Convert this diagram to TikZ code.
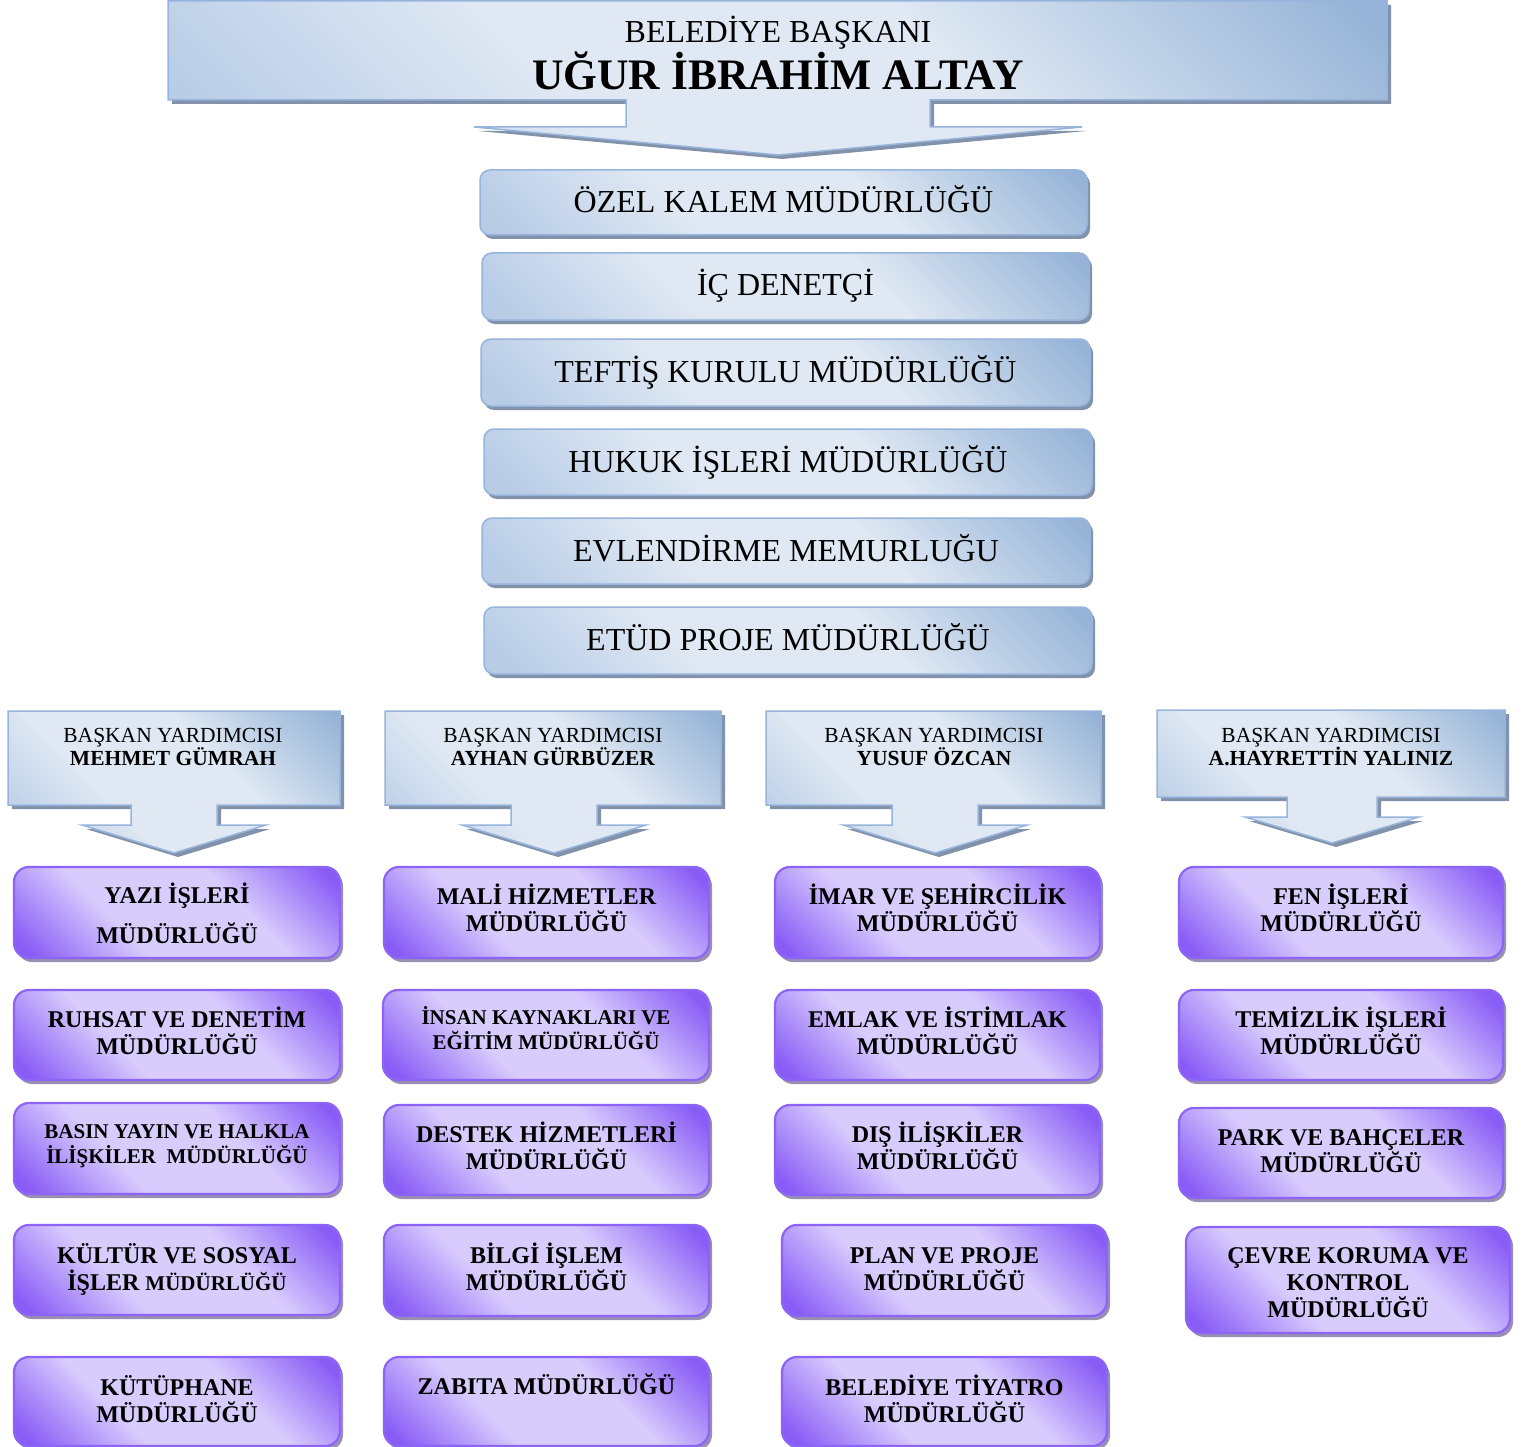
\documentclass[tikz,border=0pt]{standalone}
\usepackage{fontspec}
\setmainfont{Liberation Serif}
\usetikzlibrary{shadows}
\definecolor{bD}{RGB}{149,179,215}
\definecolor{bM}{RGB}{184,204,230}
\definecolor{bL}{RGB}{223,232,243}
\definecolor{bBorder}{RGB}{150,180,220}
\definecolor{bShadow}{RGB}{130,146,170}
\definecolor{pD}{RGB}{137,92,246}
\definecolor{pL}{RGB}{216,204,253}
\definecolor{pBorder}{RGB}{140,100,248}
\definecolor{pShadow}{RGB}{152,143,178}
\pgfdeclareverticalshading{blsh}{100bp}{color(0bp)=(bM); color(18bp)=(bM); color(38bp)=(bL); color(60bp)=(bL); color(84bp)=(bD); color(100bp)=(bD)}
\pgfdeclareverticalshading{ppsh}{100bp}{color(0bp)=(pD); color(18bp)=(pD); color(38bp)=(pL); color(62bp)=(pL); color(82bp)=(pD); color(100bp)=(pD)}
\newcommand\mlines[1]{\vtop{\lineskiplimit=-100pt\relax\halign{\hfil##\hfil\cr#1\crcr}}}
\tikzset{
  calloutshape/.style={draw=bBorder, line width=1.5pt, shade, shading=blsh, shading angle=-45,
    drop shadow={shadow xshift=4pt, shadow yshift=-4pt, opacity=1, fill=bShadow, draw=none}},
  bluebox/.style={rectangle, draw=bBorder, line width=1.5pt, rounded corners=10pt, shade, shading=blsh,
    shading angle=-45, inner sep=0pt,
    drop shadow={shadow xshift=3pt, shadow yshift=-4pt, opacity=1, fill=bShadow, draw=none}},
  purpbox/.style={rectangle, draw=pBorder, line width=2.2pt, rounded corners=15pt, shade, shading=ppsh,
    shading angle=-45, inner sep=0pt,
    drop shadow={shadow xshift=3pt, shadow yshift=-4pt, opacity=1, fill=pShadow, draw=none}},
  btext/.style={font=\fontsize{32}{36}\selectfont, inner sep=0pt, anchor=base},
  ptext/.style={font=\fontsize{24}{27}\selectfont\bfseries, inner sep=0pt, anchor=base},
  dtext/.style={font=\fontsize{21.5}{25}\selectfont, inner sep=0pt, anchor=base},
  dname/.style={font=\fontsize{21.5}{25}\selectfont\bfseries, inner sep=0pt, anchor=base},
}
% x1 y1 x2 y2 cx stemhalfwidth stembottom winghalfwidth tip
\newcommand\callout[9]{%
  \path[calloutshape] (#1,#2) -- (#3,#2) -- (#3,#4) -- ({#5+#6},#4) -- ({#5+#6},#7) -- ({#5+#8},#7)
    -- (#5,#9) -- ({#5-#8},#7) -- ({#5-#6},#7) -- ({#5-#6},#4) -- (#1,#4) -- cycle;}
% name x1 y1 x2 y2 firstbaselineoffset content
\newcommand\pbox[7]{%
  \node[purpbox, minimum width={#4-#2}, minimum height={#5-#3}] (#1) at ({(#2+#4)/2},{(#3+#5)/2}) {};
  \node[ptext] (#1-t) at ({(#2+#4)/2},{#3+#6}) {#7};}
% name x1 y1 x2 y2 content
\newcommand\bbox[6]{%
  \node[bluebox, minimum width={#4-#2}, minimum height={#5-#3}] (#1) at ({(#2+#4)/2},{(#3+#5)/2}) {};
  \node[btext] (#1-t) at ({(#2+#4)/2},{#3+43}) {#6};}
\begin{document}
\begin{tikzpicture}[x=1pt,y=-1pt]
\path[use as bounding box, fill=white] (0,0) rectangle (1523,1447);

% mayor
\callout{168}{1}{1387}{100}{778}{152}{127}{304}{155}
\node[btext] (mayorT) at (778,43) {BELEDİYE BAŞKANI};
\node[inner sep=0pt, anchor=base, font=\fontsize{43.5}{46}\selectfont\bfseries] (mayorN) at (778,90) {UĞUR İBRAHİM ALTAY};

% central units
\bbox{ozel}{480}{170}{1087}{235}{ÖZEL KALEM MÜDÜRLÜĞÜ}
\bbox{ic}{482}{253}{1089}{320}{İÇ DENETÇİ}
\bbox{teftis}{481}{339}{1090}{406}{TEFTİŞ KURULU MÜDÜRLÜĞÜ}
\bbox{hukuk}{484}{429}{1092}{495}{HUKUK İŞLERİ MÜDÜRLÜĞÜ}
\bbox{evlen}{482}{518}{1090}{584}{EVLENDİRME MEMURLUĞU}
\bbox{etud}{484}{607}{1092}{674}{ETÜD PROJE MÜDÜRLÜĞÜ}

% deputies
\callout{8}{711}{340}{805}{174}{43}{825}{92}{853}
\node[dtext] (d1r) at (173,742) {BAŞKAN YARDIMCISI};
\node[dname] (d1n) at (173,765) {MEHMET GÜMRAH};
\callout{385}{711}{721}{805}{554}{43}{825}{92}{853}
\node[dtext] (d2r) at (553,742) {BAŞKAN YARDIMCISI};
\node[dname] (d2n) at (553,765) {AYHAN GÜRBÜZER};
\callout{766}{711}{1101}{805}{935}{43}{825}{92}{853}
\node[dtext] (d3r) at (934,742) {BAŞKAN YARDIMCISI};
\node[dname] (d3n) at (934,765) {YUSUF ÖZCAN};
\callout{1157}{710}{1505}{797}{1332}{45}{817}{87}{843}
\node[dtext] (d4r) at (1331,742) {BAŞKAN YARDIMCISI};
\node[dname] (d4n) at (1331,765) {A.HAYRETTİN YALINIZ};

% column 1
\pbox{p11}{14}{867}{340}{958}{36}{\mlines{YAZI İŞLERİ\cr\noalign{\vskip13pt}MÜDÜRLÜĞÜ}}
\pbox{p12}{14}{990}{340}{1080}{37}{\mlines{RUHSAT VE DENETİM\cr MÜDÜRLÜĞÜ}}
\pbox{p13}{14}{1103}{340}{1194}{35}{\fontsize{21}{25}\selectfont\mlines{BASIN YAYIN VE HALKLA\cr İLİŞKİLER\ \ MÜDÜRLÜĞÜ}}
\pbox{p14}{14}{1225}{340}{1315}{38}{\mlines{KÜLTÜR VE SOSYAL\cr İŞLER {\fontsize{21}{25}\selectfont MÜDÜRLÜĞÜ}}}
\pbox{p15}{14}{1357}{340}{1446}{38}{\mlines{KÜTÜPHANE\cr MÜDÜRLÜĞÜ}}

% column 2
\pbox{p21}{384}{867}{709}{958}{37}{\mlines{MALİ HİZMETLER\cr MÜDÜRLÜĞÜ}}
\pbox{p22}{383}{990}{709}{1080}{34}{\fontsize{21}{25}\selectfont\mlines{İNSAN KAYNAKLARI VE\cr EĞİTİM MÜDÜRLÜĞÜ}}
\pbox{p23}{384}{1105}{709}{1195}{37}{\mlines{DESTEK HİZMETLERİ\cr MÜDÜRLÜĞÜ}}
\pbox{p24}{384}{1225}{709}{1316}{38}{\mlines{BİLGİ İŞLEM\cr MÜDÜRLÜĞÜ}}
\pbox{p25}{384}{1357}{709}{1446}{37}{ZABITA MÜDÜRLÜĞÜ}

% column 3
\pbox{p31}{775}{867}{1100}{958}{37}{\mlines{İMAR VE ŞEHİRCİLİK\cr MÜDÜRLÜĞÜ}}
\pbox{p32}{775}{990}{1100}{1080}{37}{\mlines{EMLAK VE İSTİMLAK\cr MÜDÜRLÜĞÜ}}
\pbox{p33}{775}{1105}{1100}{1195}{37}{\mlines{DIŞ İLİŞKİLER\cr MÜDÜRLÜĞÜ}}
\pbox{p34}{782}{1225}{1107}{1316}{38}{\mlines{PLAN VE PROJE\cr MÜDÜRLÜĞÜ}}
\pbox{p35}{782}{1357}{1107}{1446}{38}{\mlines{BELEDİYE TİYATRO\cr MÜDÜRLÜĞÜ}}

% column 4
\pbox{p41}{1179}{867}{1503}{958}{37}{\mlines{FEN İŞLERİ\cr MÜDÜRLÜĞÜ}}
\pbox{p42}{1179}{990}{1503}{1080}{37}{\mlines{TEMİZLİK İŞLERİ\cr MÜDÜRLÜĞÜ}}
\pbox{p43}{1179}{1108}{1503}{1198}{37}{\mlines{PARK VE BAHÇELER\cr MÜDÜRLÜĞÜ}}
\pbox{p44}{1186}{1227}{1510}{1333}{36}{\mlines{ÇEVRE KORUMA VE\cr KONTROL\cr MÜDÜRLÜĞÜ}}
\end{tikzpicture}
\end{document}
